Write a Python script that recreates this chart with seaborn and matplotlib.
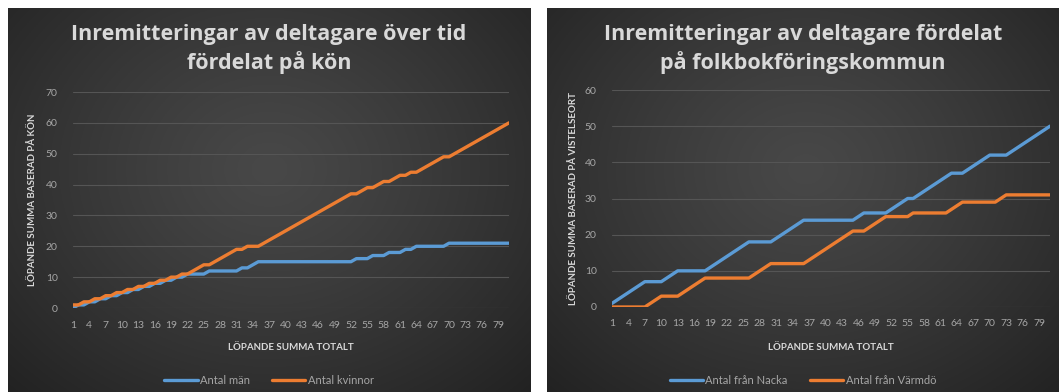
import numpy as np
import pandas as pd
import matplotlib
matplotlib.use("Agg")
import matplotlib.pyplot as plt
import seaborn as sns

# ---------------- data ----------------
x_vals = list(range(1, 82))
x_ticks = list(range(1, 80, 3))

men = [0, 1, 1, 2, 2, 3, 3, 4, 4, 5,
       5, 6, 6, 7, 7, 8, 8, 9, 9, 10,
       10, 11, 11, 11, 11, 12, 12, 12, 12, 12,
       12, 13, 13, 14, 15, 15, 15, 15, 15, 15,
       15, 15, 15, 15, 15, 15, 15, 15, 15, 15,
       15, 15, 16, 16, 16, 17, 17, 17, 18, 18,
       18, 19, 19, 20, 20, 20, 20, 20, 20, 21,
       21, 21, 21, 21, 21, 21, 21, 21, 21, 21,
       21]
women = [1, 1, 2, 2, 3, 3, 4, 4, 5, 5,
         6, 6, 7, 7, 8, 8, 9, 9, 10, 10,
         11, 11, 12, 13, 14, 14, 15, 16, 17, 18,
         19, 19, 20, 20, 20, 21, 22, 23, 24, 25,
         26, 27, 28, 29, 30, 31, 32, 33, 34, 35,
         36, 37, 37, 38, 39, 39, 40, 41, 41, 42,
         43, 43, 44, 44, 45, 46, 47, 48, 49, 49,
         50, 51, 52, 53, 54, 55, 56, 57, 58, 59,
         60]
nacka = [1, 2, 3, 4, 5, 6, 7, 7, 7, 7,
         8, 9, 10, 10, 10, 10, 10, 10, 11, 12,
         13, 14, 15, 16, 17, 18, 18, 18, 18, 18,
         19, 20, 21, 22, 23, 24, 24, 24, 24, 24,
         24, 24, 24, 24, 24, 25, 26, 26, 26, 26,
         26, 27, 28, 29, 30, 30, 31, 32, 33, 34,
         35, 36, 37, 37, 37, 38, 39, 40, 41, 42,
         42, 42, 42, 43, 44, 45, 46, 47, 48, 49,
         50]
varmdo = [0, 0, 0, 0, 0, 0, 0, 1, 2, 3,
          3, 3, 3, 4, 5, 6, 7, 8, 8, 8,
          8, 8, 8, 8, 8, 8, 9, 10, 11, 12,
          12, 12, 12, 12, 12, 12, 13, 14, 15, 16,
          17, 18, 19, 20, 21, 21, 21, 22, 23, 24,
          25, 25, 25, 25, 25, 26, 26, 26, 26, 26,
          26, 26, 27, 28, 29, 29, 29, 29, 29, 29,
          29, 30, 31, 31, 31, 31, 31, 31, 31, 31,
          31]

left_title = "Inremitteringar av deltagare över tid\nfördelat på kön"
right_title = "Inremitteringar av deltagare fördelat\npå folkbokföringskommun"
left_series = ["Antal män", "Antal kvinnor"]
right_series = ["Antal från Nacka", "Antal från Värmdö"]
x_label = "LÖPANDE SUMMA TOTALT"
left_ylabel = "LÖPANDE SUMMA BASERAD PÅ KÖN"
right_ylabel = "LÖPANDE SUMMA BASERAD PÅ VISTELSEORT"

# ---------------- style ----------------
BLUE = "#5B9BD5"
ORANGE = "#ED7D31"
TICK = "#a6a6a6"
TXT = "#d9d9d9"

sns.set_theme(style="dark")
plt.rcParams["font.family"] = ["Lato", "DejaVu Sans"]

W, H = 1059, 392
fig = plt.figure(figsize=(W / 100, H / 100), dpi=100)
fig.patch.set_facecolor("white")


def rect(l, t, r, b):
    return [l / W, 1 - b / H, (r - l) / W, (b - t) / H]


def panel_bg(l, r):
    bg = fig.add_axes(rect(l, 8, r, 392), zorder=0)
    ny, nx = 200, 300
    yy, xx = np.mgrid[0:1:ny * 1j, 0:1:nx * 1j]
    d = np.sqrt(((xx - 0.5) / 0.75) ** 2 + ((yy - 0.42) / 0.85) ** 2)
    d = np.clip(d, 0, 1) ** 1.2
    c0 = np.array([0x48, 0x48, 0x48]) / 255
    c1 = np.array([0x20, 0x20, 0x20]) / 255
    img = c0[None, None, :] * (1 - d[..., None]) + c1[None, None, :] * d[..., None]
    bg.imshow(img, aspect="auto", extent=(0, 1, 0, 1), origin="upper")
    bg.set_axis_off()


def chart(box, series_names, s1, s2, ymax, title, panel_cx, ylabel, ylabel_px):
    ax = fig.add_axes(rect(*box), zorder=2)
    ax.set_facecolor("none")
    df = pd.DataFrame({
        "x": x_vals * 2,
        "v": list(s1) + list(s2),
        "s": [series_names[0]] * len(s1) + [series_names[1]] * len(s2),
    })
    sns.lineplot(data=df, x="x", y="v", hue="s", palette=[BLUE, ORANGE],
                 linewidth=2.4, ax=ax, legend=True, solid_capstyle="round")
    ax.set_xlim(1, 81)
    ax.set_ylim(0, ymax)
    ax.set_xticks(x_ticks)
    ax.set_xticklabels([str(t) for t in x_ticks])
    ax.set_yticks(list(range(0, ymax + 1, 10)))
    ax.yaxis.grid(True, color="#555555", linewidth=0.8)
    ax.xaxis.grid(False)
    ax.set_axisbelow(True)
    for sp in ax.spines.values():
        sp.set_visible(False)
    ax.tick_params(axis="both", colors=TICK, labelsize=7.5, length=0)
    ax.tick_params(axis="y", pad=11)
    ax.tick_params(axis="x", pad=9)
    ax.set_xlabel(x_label, fontsize=7, fontweight="bold", color=TXT)
    ax.xaxis.set_label_coords(0.5, (box[3] - 343) / (box[3] - box[1]))
    ax.set_ylabel(ylabel, fontsize=7, fontweight="bold", color=TXT)
    ax.yaxis.label.set_va("center")
    ax.yaxis.set_label_coords((ylabel_px - box[0]) / (box[2] - box[0]), 0.5)
    handles, labels = ax.get_legend_handles_labels()
    ax.legend(handles, labels, loc="center",
              bbox_to_anchor=(panel_cx / W, 1 - 380 / H),
              bbox_transform=fig.transFigure,
              ncol=2, frameon=False, fontsize=8, labelcolor=TICK,
              handlelength=3.0, columnspacing=2.0, handletextpad=0.2)
    fig.text(panel_cx / W, 1 - 49 / H, title, ha="center", va="center",
             fontsize=15.5, fontweight="bold", color=TXT, linespacing=1.3,
             family=["Open Sans", "DejaVu Sans"])
    return ax


panel_bg(8, 531)
panel_bg(547, 1065)

chart((73, 92, 509, 308), left_series, men, women, 70,
      left_title, 269, left_ylabel, 33)
chart((612, 90, 1050, 307), right_series, nacka, varmdo, 60,
      right_title, 803, right_ylabel, 574)

fig.savefig("out.png", dpi=100, facecolor=fig.get_facecolor())
